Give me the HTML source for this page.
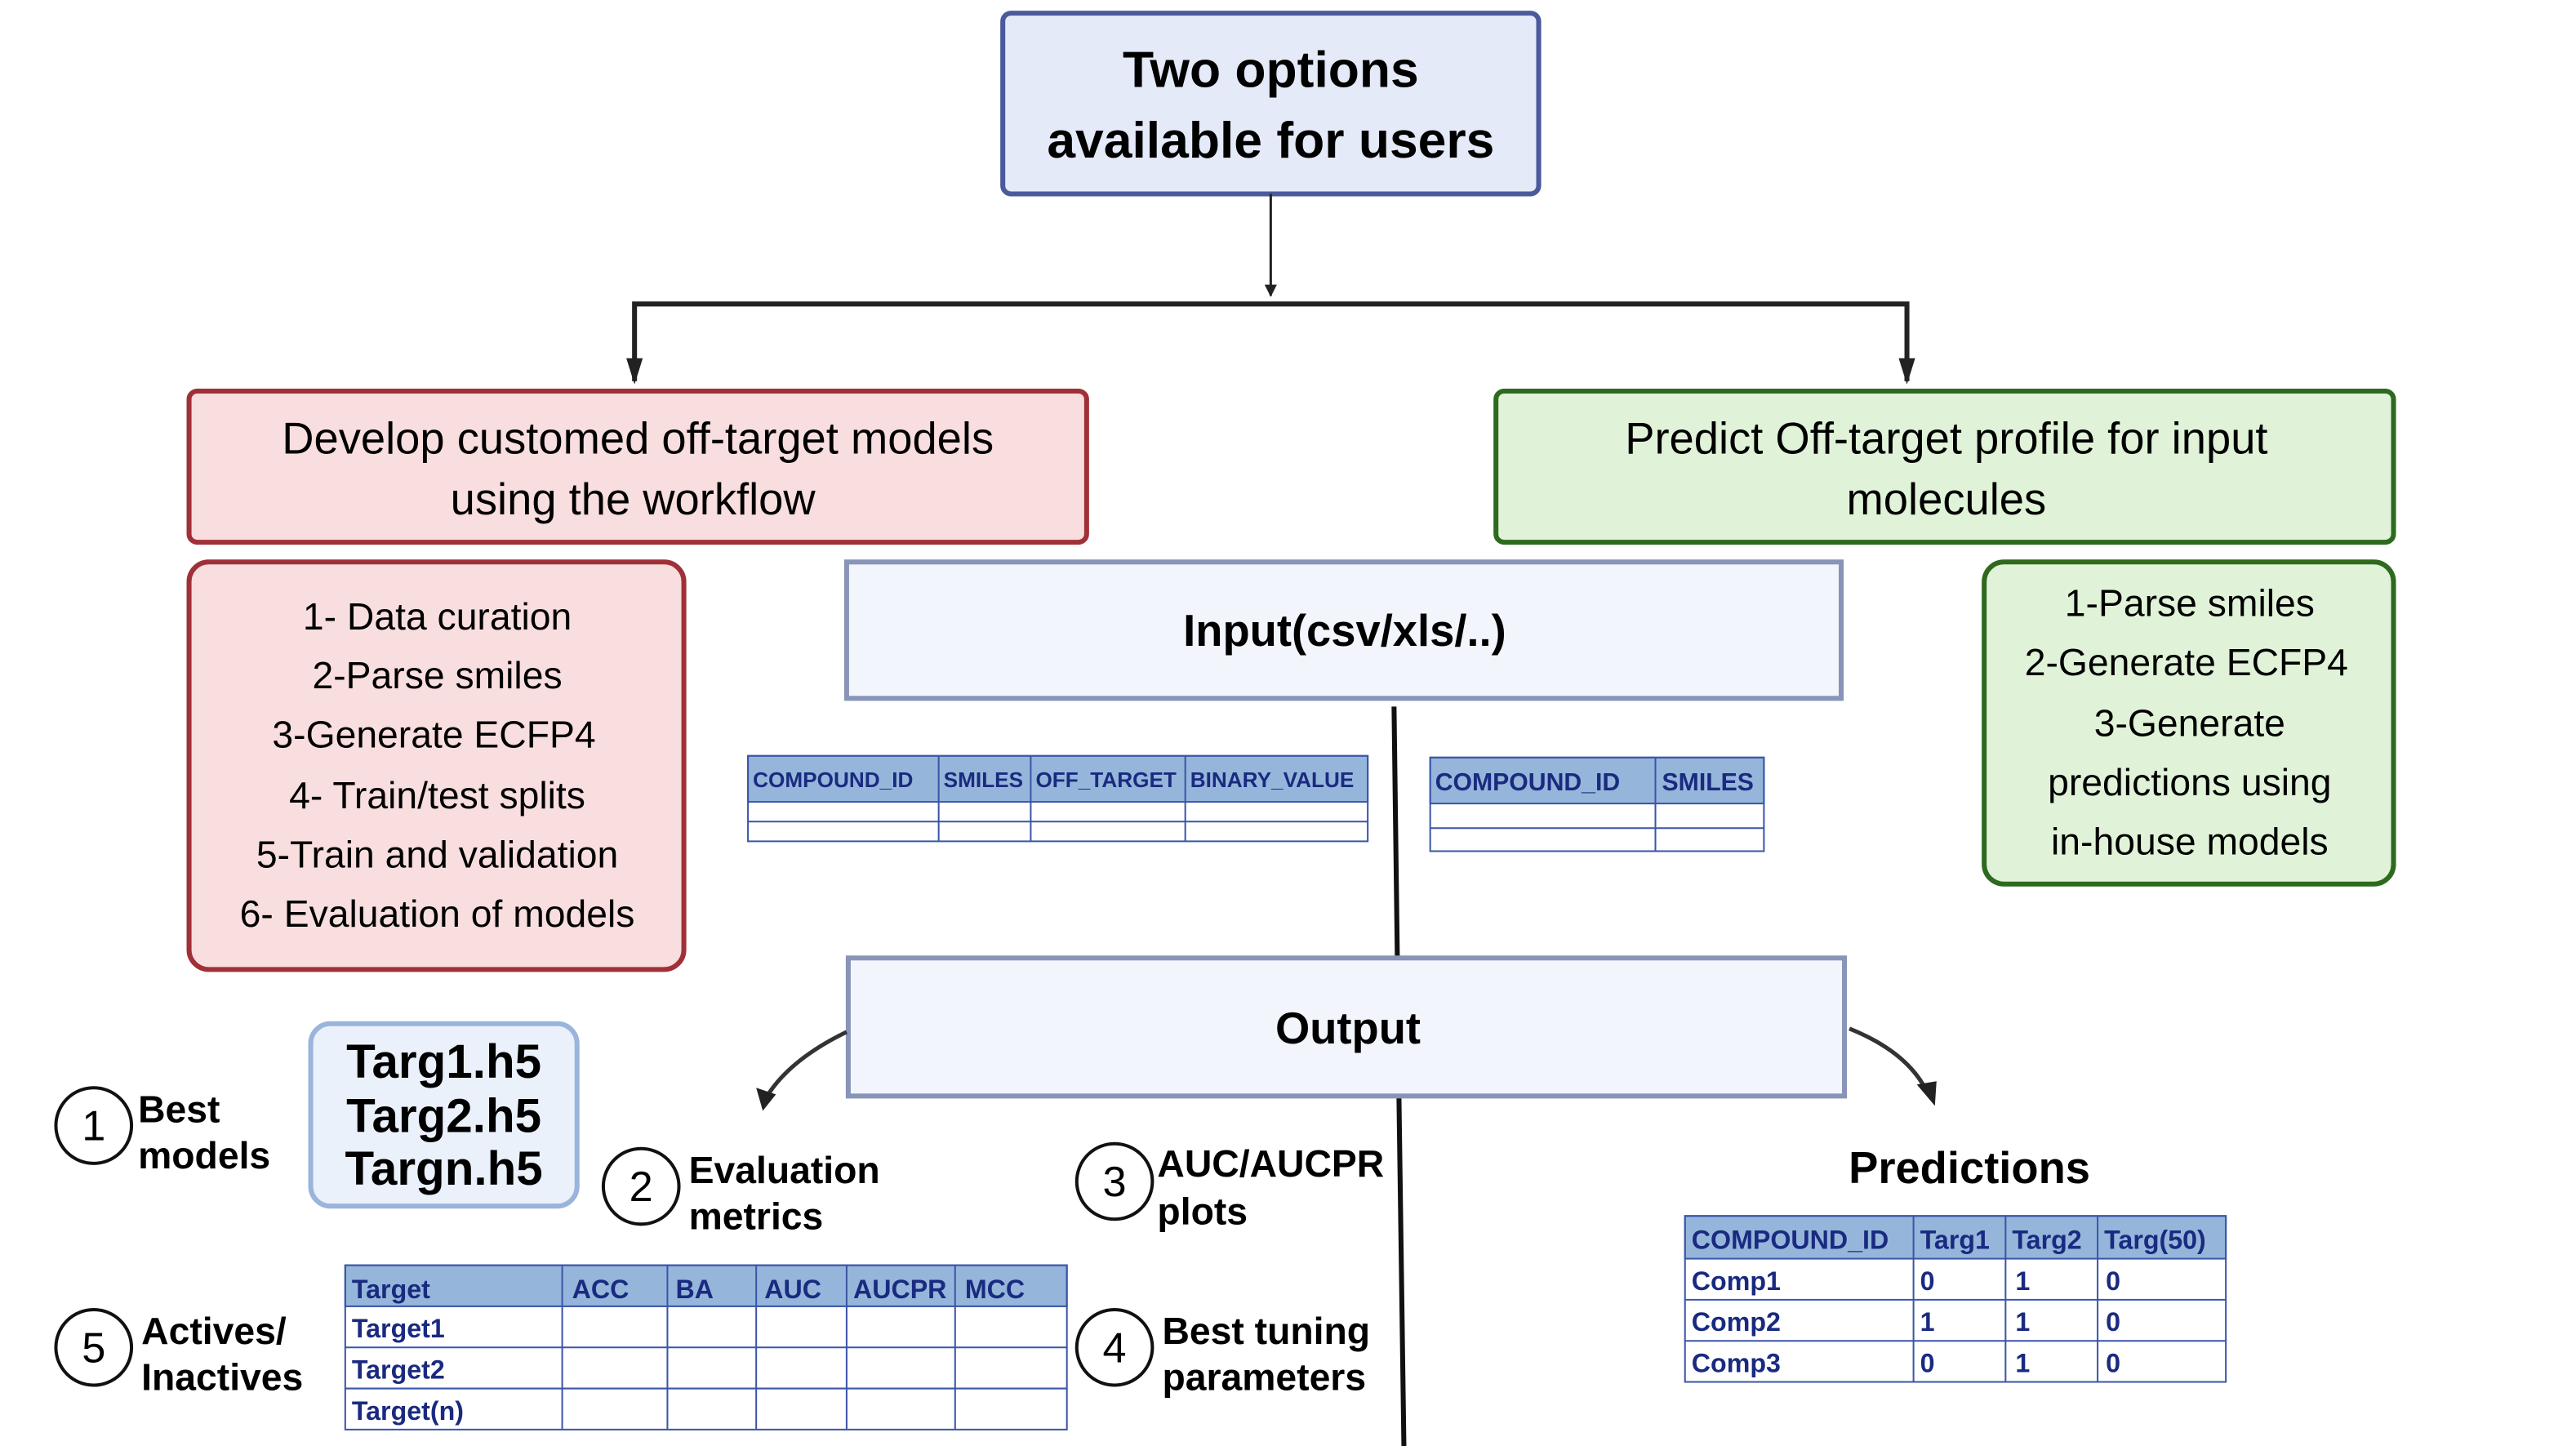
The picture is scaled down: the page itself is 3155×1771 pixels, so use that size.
<!DOCTYPE html>
<html><head><meta charset="utf-8"><style>
html,body{margin:0;padding:0;background:#fff;width:3155px;height:1771px;overflow:hidden}
svg{display:block}
text{font-family:"Liberation Sans",sans-serif;}
.t{font-size:14px;font-weight:bold;fill:#1a2a80}
</style></head><body>
<svg width="3155" height="1771" viewBox="0 0 1567 880" preserveAspectRatio="none" xmlns="http://www.w3.org/2000/svg">
<defs>
<marker id="ah" viewBox="0 0 10 10" refX="9" refY="5" markerWidth="5" markerHeight="5" orient="auto"><path d="M0,0 L10,5 L0,10 z" fill="#222"/></marker>
</defs>
<rect x="610" y="8" width="326" height="110" rx="5" fill="#e4eaf8" stroke="#4a5a9c" stroke-width="3"/>
<text x="773" y="53" text-anchor="middle" font-size="31" font-weight="bold">Two options</text>
<text x="773" y="96" text-anchor="middle" font-size="31" font-weight="bold">available for users</text>
<line x1="773" y1="118" x2="773" y2="180" stroke="#222" stroke-width="1.5" marker-end="url(#ah)"/>
<polyline points="386,232 386,185 1160,185 1160,232" fill="none" stroke="#222" stroke-width="3"/>
<path d="M381,218 L391,218 L386,234 z" fill="#222"/>
<path d="M1155,218 L1165,218 L1160,234 z" fill="#222"/>
<rect x="115" y="238" width="546" height="92" rx="5" fill="#f8dede" stroke="#a03038" stroke-width="3"/>
<text x="388" y="276" text-anchor="middle" font-size="27">Develop customed off-target models</text>
<text x="385" y="313" text-anchor="middle" font-size="27">using the workflow</text>
<rect x="910" y="238" width="546" height="92" rx="5" fill="#e0f3d8" stroke="#2e6a1e" stroke-width="3"/>
<text x="1184" y="276" text-anchor="middle" font-size="27">Predict Off-target profile for input</text>
<text x="1184" y="313" text-anchor="middle" font-size="27">molecules</text>
<rect x="115" y="342" width="301" height="248" rx="12" fill="#f8dede" stroke="#a03038" stroke-width="3"/>
<g font-size="23" text-anchor="middle">
<text x="266" y="383">1- Data curation</text>
<text x="266" y="419">2-Parse smiles</text>
<text x="264" y="455">3-Generate ECFP4</text>
<text x="266" y="492">4- Train/test splits</text>
<text x="266" y="528">5-Train and validation</text>
<text x="266" y="564">6- Evaluation of models</text>
</g>
<rect x="1207" y="342" width="249" height="196" rx="12" fill="#e0f3d8" stroke="#2e6a1e" stroke-width="3"/>
<g font-size="23" text-anchor="middle">
<text x="1332" y="375">1-Parse smiles</text>
<text x="1330" y="411">2-Generate ECFP4</text>
<text x="1332" y="448">3-Generate</text>
<text x="1332" y="484">predictions using</text>
<text x="1332" y="520">in-house models</text>
</g>
<rect x="515" y="342" width="605" height="83" fill="#f2f5fb" stroke="#8894b8" stroke-width="3"/>
<text x="818" y="393" text-anchor="middle" font-size="27" font-weight="bold">Input(csv/xls/..)</text>
<line x1="848" y1="430" x2="850" y2="583" stroke="#111" stroke-width="3"/>
<line x1="851" y1="668" x2="854" y2="880" stroke="#111" stroke-width="3"/>
<g stroke="#3a55a8" stroke-width="1" fill="none">
<rect x="455" y="460" width="377" height="28" fill="#95b6da"/>
<rect x="455" y="460" width="377" height="52"/>
<line x1="455" y1="500" x2="832" y2="500"/>
<line x1="571" y1="460" x2="571" y2="512"/><line x1="627" y1="460" x2="627" y2="512"/><line x1="721" y1="460" x2="721" y2="512"/>
</g>
<text x="458" y="479" class="t" style="font-size:13px">COMPOUND_ID</text><text x="574" y="479" class="t" style="font-size:13px">SMILES</text><text x="630" y="479" class="t" style="font-size:13px">OFF_TARGET</text><text x="724" y="479" class="t" style="font-size:13px">BINARY_VALUE</text>
<g stroke="#3a55a8" stroke-width="1" fill="none">
<rect x="870" y="461" width="203" height="28" fill="#95b6da"/>
<rect x="870" y="461" width="203" height="57"/>
<line x1="870" y1="504" x2="1073" y2="504"/>
<line x1="1007" y1="461" x2="1007" y2="518"/>
</g>
<text x="873" y="481" class="t" style="font-size:15px">COMPOUND_ID</text><text x="1011" y="481" class="t" style="font-size:15px">SMILES</text>
<rect x="516" y="583" width="606" height="84" fill="#f2f5fb" stroke="#8894b8" stroke-width="3"/>
<text x="820" y="635" text-anchor="middle" font-size="27" font-weight="bold">Output</text>
<path d="M515,628 Q480,645 466,668" fill="none" stroke="#333" stroke-width="2.5"/>
<path d="M460,662 L472,666 L464,676 z" fill="#222"/>
<path d="M1125,626 Q1160,640 1172,664" fill="none" stroke="#333" stroke-width="2.5"/>
<path d="M1166,660 L1178,658 L1177,673 z" fill="#222"/>
<rect x="189" y="623" width="162" height="111" rx="12" fill="#eaf1fb" stroke="#9ab4dc" stroke-width="3"/>
<g font-size="29" font-weight="bold" text-anchor="middle"><text x="270" y="656">Targ1.h5</text><text x="270" y="689">Targ2.h5</text><text x="270" y="721">Targn.h5</text></g>
<g fill="#fff" stroke="#111" stroke-width="2">
<circle cx="57" cy="685" r="23"/><circle cx="390" cy="722" r="23"/><circle cx="678" cy="719" r="23"/><circle cx="57" cy="820" r="23"/><circle cx="678" cy="820" r="23"/>
</g>
<g font-size="26" text-anchor="middle"><text x="57" y="694">1</text><text x="390" y="731">2</text><text x="678" y="728">3</text><text x="57" y="829">5</text><text x="678" y="829">4</text></g>
<g font-size="23" font-weight="bold">
<text x="84" y="683">Best</text><text x="84" y="711">models</text>
<text x="419" y="720">Evaluation</text><text x="419" y="748">metrics</text>
<text x="704" y="716">AUC/AUCPR</text><text x="704" y="745">plots</text>
<text x="86" y="818">Actives/</text><text x="86" y="846">Inactives</text>
<text x="707" y="818">Best tuning</text><text x="707" y="846">parameters</text>
</g>
<text x="1198" y="720" text-anchor="middle" font-size="27" font-weight="bold">Predictions</text>
<g stroke="#3a55a8" stroke-width="1" fill="none">
<rect x="1025" y="740" width="329" height="26" fill="#95b6da"/>
<rect x="1025" y="740" width="329" height="101"/>
<line x1="1025" y1="791" x2="1354" y2="791"/><line x1="1025" y1="816" x2="1354" y2="816"/>
<line x1="1164" y1="740" x2="1164" y2="841"/><line x1="1220" y1="740" x2="1220" y2="841"/><line x1="1276" y1="740" x2="1276" y2="841"/>
</g>
<text x="1029" y="760" class="t" style="font-size:16px">COMPOUND_ID</text><text x="1168" y="760" class="t" style="font-size:16px">Targ1</text><text x="1224" y="760" class="t" style="font-size:16px">Targ2</text><text x="1280" y="760" class="t" style="font-size:16px">Targ(50)</text>
<text x="1029" y="785" class="t" style="font-size:16px">Comp1</text><text x="1168" y="785" class="t" style="font-size:16px">0</text><text x="1226" y="785" class="t" style="font-size:16px">1</text><text x="1281" y="785" class="t" style="font-size:16px">0</text>
<text x="1029" y="810" class="t" style="font-size:16px">Comp2</text><text x="1168" y="810" class="t" style="font-size:16px">1</text><text x="1226" y="810" class="t" style="font-size:16px">1</text><text x="1281" y="810" class="t" style="font-size:16px">0</text>
<text x="1029" y="835" class="t" style="font-size:16px">Comp3</text><text x="1168" y="835" class="t" style="font-size:16px">0</text><text x="1226" y="835" class="t" style="font-size:16px">1</text><text x="1281" y="835" class="t" style="font-size:16px">0</text>
<g stroke="#3a55a8" stroke-width="1" fill="none">
<rect x="210" y="770" width="439" height="25" fill="#95b6da"/>
<rect x="210" y="770" width="439" height="100"/>
<line x1="210" y1="820" x2="649" y2="820"/><line x1="210" y1="845" x2="649" y2="845"/>
<line x1="342" y1="770" x2="342" y2="870"/><line x1="406" y1="770" x2="406" y2="870"/><line x1="460" y1="770" x2="460" y2="870"/><line x1="515" y1="770" x2="515" y2="870"/><line x1="581" y1="770" x2="581" y2="870"/>
</g>
<text x="214" y="790" class="t" style="font-size:16px">Target</text><text x="348" y="790" class="t" style="font-size:16px">ACC</text><text x="411" y="790" class="t" style="font-size:16px">BA</text><text x="465" y="790" class="t" style="font-size:16px">AUC</text><text x="519" y="790" class="t" style="font-size:16px">AUCPR</text><text x="587" y="790" class="t" style="font-size:16px">MCC</text>
<text x="214" y="814" class="t" style="font-size:16px">Target1</text><text x="214" y="839" class="t" style="font-size:16px">Target2</text><text x="214" y="864" class="t" style="font-size:16px">Target(n)</text>
</svg>
</body></html>
